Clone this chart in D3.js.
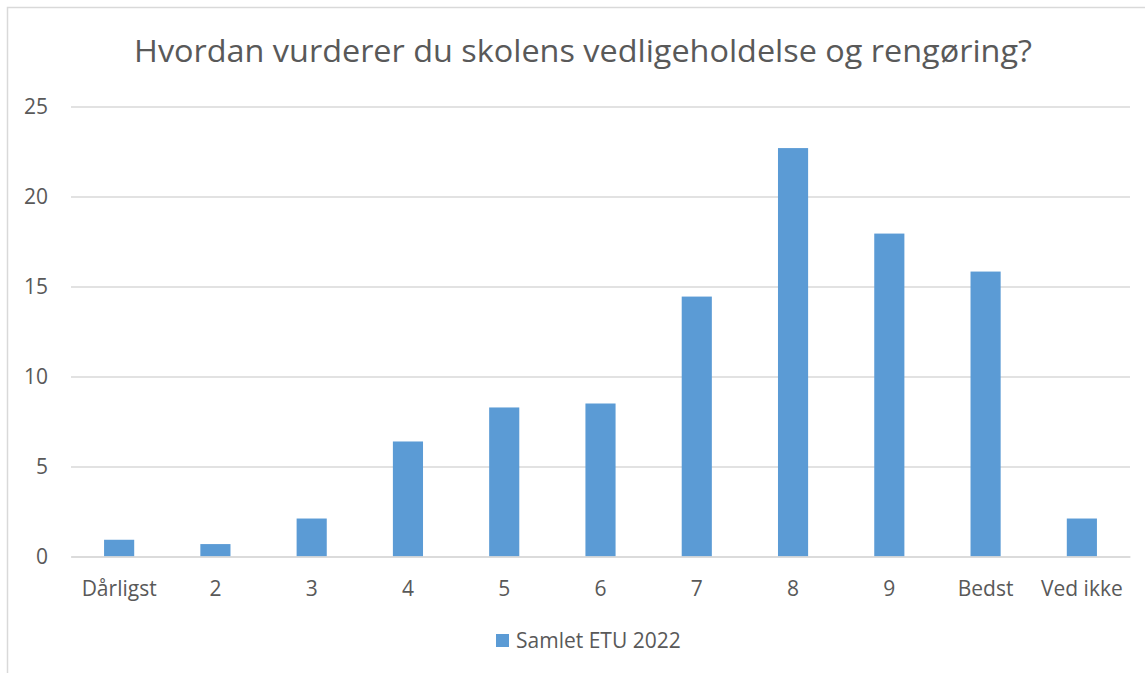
<!DOCTYPE html>
<html>
<head>
<meta charset="utf-8">
<script src="https://cdn.jsdelivr.net/npm/d3@7"></script>
<style>
  body { margin: 0; background: #fff; }
  text { font-family: "Open Sans", "Noto Sans", sans-serif; fill: #595959; }
</style>
</head>
<body>
<div class="chart"></div>
<script>
const categories = ['Dårligst', '2', '3', '4', '5', '6', '7', '8', '9', 'Bedst', 'Ved ikke'];
const values = [0.93, 0.69, 2.11, 6.39, 8.28, 8.5, 14.44, 22.69, 17.94, 15.83, 2.11];
const yTicks = [0, 5, 10, 15, 20, 25];
const seriesName = 'Samlet ETU 2022';
const title = 'Hvordan vurderer du skolens vedligeholdelse og rengøring?';

const svgWidth = 1145;
const svgHeight = 673;
const margin = {top: 106.5, right: 15, bottom: 116.5, left: 71};
const graphWidth = svgWidth - margin.left - margin.right;
const graphHeight = svgHeight - margin.top - margin.bottom;

const svg = d3.select('.chart')
  .append('svg')
  .attr('width', svgWidth)
  .attr('height', svgHeight);

// chart frame
svg.append('rect')
  .attr('x', 7.5)
  .attr('y', 7.5)
  .attr('width', svgWidth + 20)
  .attr('height', svgHeight + 20)
  .attr('fill', 'none')
  .attr('stroke', '#d9d9d9')
  .attr('stroke-width', 1.5);

svg.append('text')
  .attr('x', 583)
  .attr('y', 62)
  .attr('text-anchor', 'middle')
  .attr('font-size', 31)
  .attr('textLength', 898)
  .attr('lengthAdjust', 'spacingAndGlyphs')
  .text(title);

const graph = svg.append('g')
  .attr('transform', `translate(${margin.left},${margin.top})`);

const x = d3.scaleBand()
  .domain(categories)
  .range([0, graphWidth])
  .paddingInner(0.687)
  .paddingOuter(0.3435);

const y = d3.scaleLinear()
  .domain([0, 25])
  .range([graphHeight, 0]);

// gridlines
const yAxis = d3.axisLeft(y)
  .tickValues(yTicks)
  .tickSize(-graphWidth)
  .tickPadding(23);
const yAxisGroup = graph.append('g').attr('class', 'y-axis').call(yAxis);
yAxisGroup.select('.domain').remove();
yAxisGroup.selectAll('line')
  .attr('stroke', '#d9d9d9')
  .attr('stroke-width', 1.5);
yAxisGroup.selectAll('text')
  .attr('font-size', 21)
  .style('fill', '#595959')
  .style('font-family', '"Open Sans", sans-serif');

// bars
graph.selectAll('rect.bar')
  .data(values)
  .enter()
  .append('rect')
  .attr('class', 'bar')
  .attr('x', (d, i) => x(categories[i]))
  .attr('width', x.bandwidth())
  .attr('y', d => y(d))
  .attr('height', d => graphHeight - y(d))
  .attr('fill', '#5b9bd5');

// x axis
const xAxis = d3.axisBottom(x).tickSize(0).tickPadding(25);
const xAxisGroup = graph.append('g')
  .attr('class', 'x-axis')
  .attr('transform', `translate(0,${graphHeight})`)
  .call(xAxis);
xAxisGroup.select('.domain')
  .attr('stroke', '#d9d9d9')
  .attr('stroke-width', 1.5);
xAxisGroup.selectAll('text')
  .attr('font-size', 21)
  .style('fill', '#595959')
  .style('font-family', '"Open Sans", sans-serif');

// legend
const legend = svg.append('g').attr('transform', 'translate(496,634)');
legend.append('rect')
  .attr('width', 13)
  .attr('height', 13)
  .attr('fill', '#5b9bd5');
legend.append('text')
  .attr('x', 20)
  .attr('y', 14)
  .attr('font-size', 21)
  .text(seriesName);
</script>
</body>
</html>
